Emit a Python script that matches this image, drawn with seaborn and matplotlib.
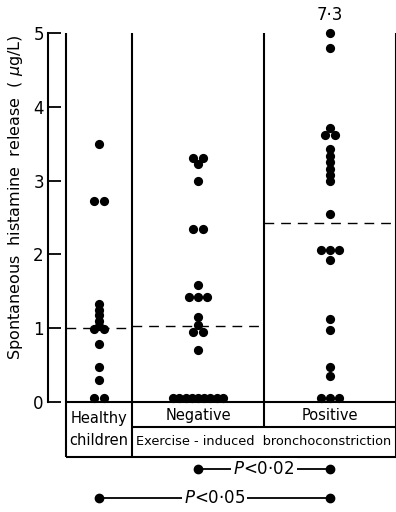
import numpy as np
import pandas as pd
import seaborn as sns
import matplotlib.pyplot as plt

# values (ug/L); the 7.3 outlier is drawn at the top of the scale
groups = ["Healthy", "Negative", "Positive"]
healthy = [3.5, 2.72, 2.72, 1.33, 1.25, 1.18, 1.1, 1.03, 0.99, 0.99, 0.78, 0.48, 0.3, 0.05, 0.05]
negative = [3.31, 3.31, 3.22, 2.99, 2.35, 2.35, 1.59, 1.42, 1.42, 1.42, 1.15, 1.05,
            0.95, 0.95, 0.71, 0.05, 0.05, 0.05, 0.05, 0.05, 0.05, 0.05, 0.05, 0.05]
positive = [7.3, 4.8, 3.71, 3.62, 3.62, 3.43, 3.34, 3.25, 3.16, 3.08, 3.0, 2.55,
            2.06, 2.06, 2.06, 1.93, 1.12, 0.98, 0.48, 0.35, 0.05, 0.05, 0.05]
ref_levels = [1.0, 1.03, 2.43]  # dashed reference lines
y_ticks = [0, 1, 2, 3, 4, 5]
y_max = 5.0

# layout: column edges in x units (healthy narrow, the two EIB groups wide)
edges = [0, 1, 3, 5]
centers = [0.5, 2.0, 4.0]

df = pd.DataFrame({
    "group": ["Healthy"] * len(healthy) + ["Negative"] * len(negative) + ["Positive"] * len(positive),
    "value": healthy + negative + positive,
})
df["shown"] = df["value"].clip(upper=y_max)
df["center"] = df["group"].map(dict(zip(groups, centers)))
# equal values are laid side by side, like the hand drawn original
rank = df.groupby(["group", "shown"]).cumcount()
n = df.groupby(["group", "shown"])["shown"].transform("size")
step = np.minimum(0.14, 0.75 / (n - 1).clip(lower=1))
df["xpos"] = df["center"] + (rank - (n - 1) / 2) * step

sns.set_style("ticks")
plt.rcParams["font.family"] = ["DejaVu Sans"]
plt.rcParams["mathtext.fontset"] = "dejavusans"
for key in ["text.color", "axes.labelcolor", "xtick.color", "ytick.color", "axes.edgecolor"]:
    plt.rcParams[key] = "black"

fig = plt.figure(figsize=(3.96, 5.12), dpi=100)
ax = fig.add_axes([48 / 396, 110 / 512, 349 / 396, 369 / 512])

sns.scatterplot(data=df, x="xpos", y="shown", color="black", s=44, linewidth=0,
                clip_on=False, legend=False, ax=ax, zorder=3)

ax.set_xlim(-18 / 66, -18 / 66 + 349 / 66)
ax.set_ylim(0, y_max)
ax.set_yticks(y_ticks)
ax.set_yticklabels([str(t) for t in y_ticks], fontsize=12)
ax.tick_params(axis="y", left=True, direction="in", length=9, width=1.3, pad=3)
ax.set_xticks([])
for side in ["top", "right", "bottom"]:
    ax.spines[side].set_visible(False)
ax.spines["left"].set_linewidth(1.5)
ax.spines["left"].set_bounds(0, y_max)
ax.set_xlabel("")
ax.set_ylabel("Spontaneous  histamine  release  ( $\\mu$g/L)", fontsize=11.5)
ax.yaxis.set_label_coords(-0.066, 0.554)

# dashed reference level per group
for i, lev in enumerate(ref_levels):
    ax.hlines(lev, edges[i], edges[i + 1], colors="black", lw=1.0,
              linestyles=(0, (7, 5)), clip_on=False)

# frame and label table under the plot
lw = 1.5
tab_mid, tab_bot = -0.34, -0.745
kw = dict(color="black", lw=lw, clip_on=False, solid_capstyle="butt")
for xe in [edges[0], edges[1], edges[3]]:
    ax.plot([xe, xe], [y_max, tab_bot], **kw)
ax.plot([edges[2], edges[2]], [y_max, tab_mid], **kw)
ax.plot([edges[0], edges[3]], [0, 0], **kw)
ax.plot([edges[1], edges[3]], [tab_mid, tab_mid], **kw)
ax.plot([edges[0], edges[3]], [tab_bot, tab_bot], **kw)

ax.text(centers[0], -0.22, "Healthy", ha="center", va="center", fontsize=10.5)
ax.text(centers[0], -0.515, "children", ha="center", va="center", fontsize=10.5)
ax.text(centers[1], -0.18, "Negative", ha="center", va="center", fontsize=10.5)
ax.text(centers[2], -0.18, "Positive", ha="center", va="center", fontsize=10.5)
ax.text(edges[1] + 0.06, -0.53, "Exercise - induced  bronchoconstriction",
        ha="left", va="center", fontsize=9.3)

# outlier value written above its dot
ax.text(centers[2], 5.24, "7·3", ha="center", va="center", fontsize=12)

# significance brackets
for (a, b), yb, lab in [((1, 2), -0.91, "$P$<0·02"), ((0, 2), -1.30, "$P$<0·05")]:
    ax.plot([centers[a], centers[b]], [yb, yb], color="black", lw=1.3,
            marker="o", markersize=6, clip_on=False)
    ax.text((centers[a] + centers[b]) / 2, yb, lab, ha="center", va="center",
            fontsize=12, bbox=dict(facecolor="white", edgecolor="none", pad=1.5))

fig.savefig("out.png", dpi=100)
